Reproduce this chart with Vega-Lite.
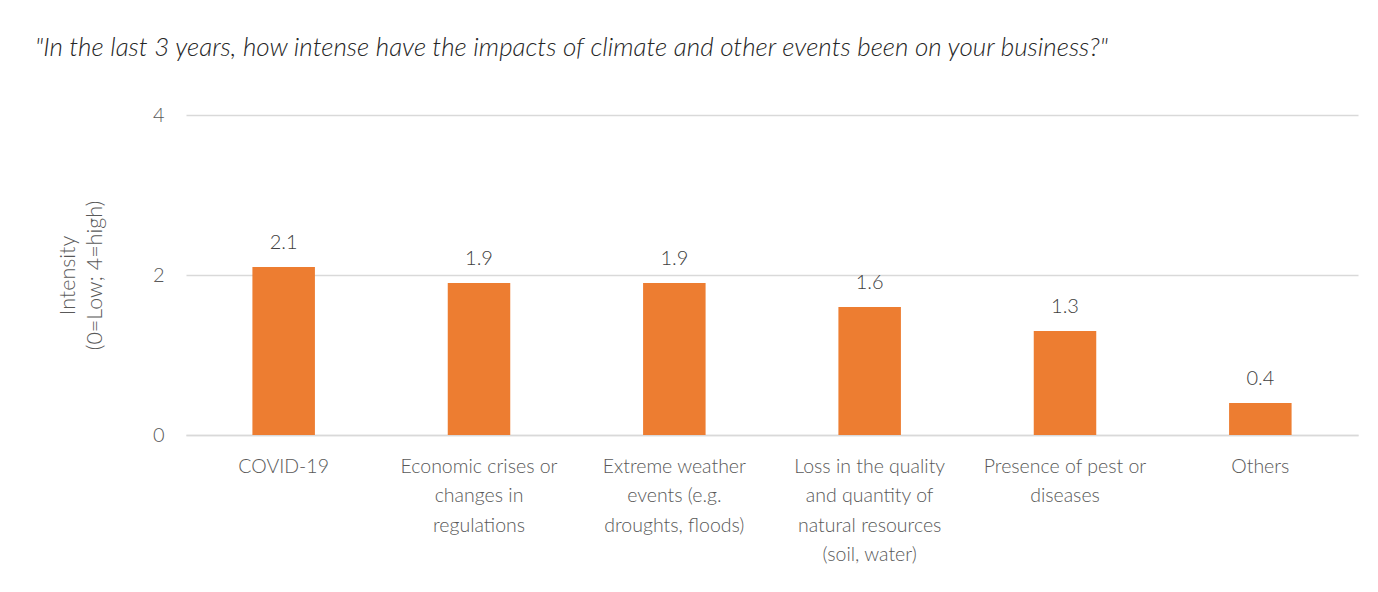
{
  "$schema": "https://vega.github.io/schema/vega-lite/v6.json",
  "autosize": {"type": "none"},
  "width": 1172,
  "height": 320,
  "padding": {"left": 186, "top": 115, "right": 20, "bottom": 157},
  "background": "white",
  "title": {
    "text": "\"In the last 3 years, how intense have the impacts of climate and other events been on your business?\"",
    "anchor": "start",
    "frame": "group",
    "dx": -151,
    "offset": 44,
    "font": "Lato",
    "fontStyle": "italic",
    "fontWeight": 300,
    "fontSize": 26,
    "color": "#262626"
  },
  "data": {
    "values": [
      {"event": "COVID-19", "intensity": 2.1},
      {"event": "Economic crises or\nchanges in\nregulations", "intensity": 1.9},
      {"event": "Extreme weather\nevents (e.g.\ndroughts, floods)", "intensity": 1.9},
      {"event": "Loss in the quality\nand quantity of\nnatural resources\n(soil, water)", "intensity": 1.6},
      {"event": "Presence of pest or\ndiseases", "intensity": 1.3},
      {"event": "Others", "intensity": 0.4}
    ]
  },
  "encoding": {
    "x": {
      "field": "event",
      "type": "nominal",
      "sort": null,
      "scale": {"paddingInner": 0.68, "paddingOuter": 0.34},
      "axis": {
        "title": null,
        "labelAngle": 0,
        "labelExpr": "split(datum.value, '\\n')",
        "labelFont": "Lato",
        "labelFontWeight": 300,
        "labelFontSize": 19.5,
        "labelColor": "#595959",
        "labelLineHeight": 29.5,
        "labelPadding": 22,
        "labelBaseline": "top",
        "ticks": false,
        "domainColor": "#D9D9D9",
        "domainWidth": 1.5
      }
    },
    "y": {
      "field": "intensity",
      "type": "quantitative",
      "scale": {"domain": [0, 4]},
      "axis": {
        "values": [0, 2, 4],
        "title": ["Intensity", "(0=Low;  4=high)"],
        "titleFont": "Lato",
        "titleFontWeight": 300,
        "titleFontSize": 21.5,
        "titleColor": "#595959",
        "titleLineHeight": 27,
        "titlePadding": 46,
        "labelFont": "Lato",
        "labelFontWeight": 300,
        "labelFontSize": 20,
        "labelColor": "#595959",
        "labelPadding": 22,
        "ticks": false,
        "domain": false,
        "grid": true,
        "gridColor": "#D9D9D9",
        "gridWidth": 1.5
      }
    }
  },
  "layer": [
    {"mark": {"type": "bar", "color": "#ED7D31"}},
    {
      "mark": {
        "type": "text",
        "baseline": "bottom",
        "dy": -14,
        "font": "Lato",
        "fontWeight": 300,
        "fontSize": 20,
        "color": "#404040"
      },
      "encoding": {"text": {"field": "intensity", "type": "quantitative", "format": ".1f"}}
    }
  ],
  "config": {"view": {"stroke": null}}
}
